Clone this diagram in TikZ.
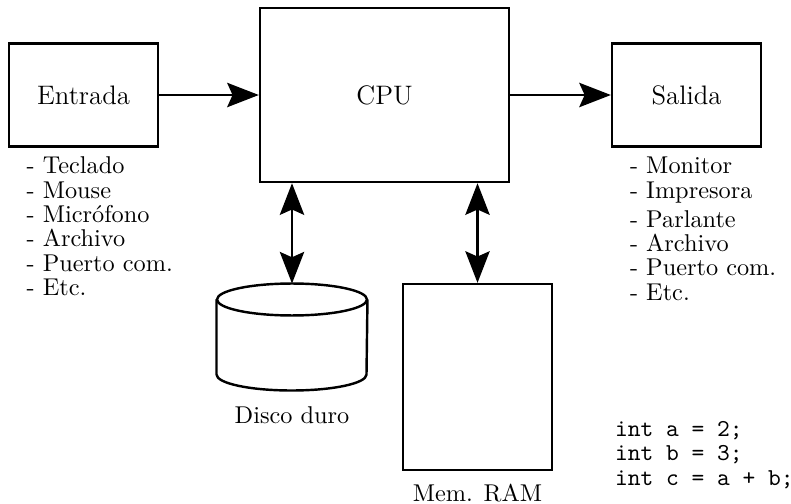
\documentclass[tikz,border=0pt]{standalone}
\usepackage{fontspec}
\usetikzlibrary{positioning,arrows.meta}

\tikzstyle{caja} = [rectangle, draw, line width=1pt, inner sep=0pt, font=\fontsize{11}{13}\selectfont]
\tikzstyle{lista} = [align=left, inner sep=0pt, font=\fontsize{10}{10}\selectfont]
\tikzstyle{flecha} = [line width=1pt, -{Stealth[length=13pt, width=10pt, inset=2.2pt]}]

\begin{document}
\begin{tikzpicture}
  \tikzset{dobleflecha/.style={line width=1pt, {Stealth[length=13pt, width=10pt, inset=2.2pt]}-{Stealth[length=13pt, width=10pt, inset=2.2pt]}}}
  \useasboundingbox (0,0) rectangle (11.44,-7.275);

  \node (In) [caja, minimum width=2.155cm, minimum height=1.49cm] at (1.208,-1.374) {Entrada};
  \node (CPU) [caja, minimum width=3.601cm, minimum height=2.517cm] at (5.561,-1.374) {CPU};
  \node (Out) [caja, minimum width=2.155cm, minimum height=1.49cm] at (9.93,-1.374) {Salida};
  \node (Disk) [minimum width=2.169cm, minimum height=1.533cm, inner sep=0pt] at (4.223,-4.874) {};
  \node (RAM) [caja, minimum width=2.155cm, minimum height=2.69cm] at (6.906,-5.453) {};

  \node (InList) [lista, below right=0.127cm and 0.265cm of In.south west]
    {- Teclado\\- Mouse\\- Micrófono\\- Archivo\\- Puerto com.\\- Etc.};
  \node (OutList) [lista, below right=0.13cm and 0.27cm of Out.south west]
    {- Monitor\\- Impresora\\[2pt]- Parlante\\- Archivo\\- Puerto com.\\- Etc.};

  \draw[line width=1pt] ([yshift=-0.231cm]Disk.north) ellipse (1.0845cm and 0.231cm);
  \draw[line width=1pt] ([yshift=-0.231cm]Disk.north west) -- ([yshift=0.231cm]Disk.south west)
    arc (180:360:1.0845cm and 0.231cm) -- ([yshift=-0.231cm]Disk.north east);

  \node (DiskLabel) [below=6.3pt of Disk, inner sep=0pt] {Disco duro};
  \node (RAMLabel) [below=5pt of RAM, inner sep=0pt] {Mem. RAM};

  \node (Code) [align=left, inner sep=0pt, anchor=north west, font=\ttfamily\fontsize{10}{10}\selectfont]
    at (8.888,-6.09) {int a = 2;\\int b = 3;\\int c = a + b;};

  \draw[flecha] (In) -- (CPU);
  \draw[flecha] (CPU) -- (Out);
  \draw[dobleflecha] (Disk.north |- CPU.south) -- (Disk.north);
  \draw[dobleflecha] (RAM.north |- CPU.south) -- (RAM.north);
\end{tikzpicture}
\end{document}
